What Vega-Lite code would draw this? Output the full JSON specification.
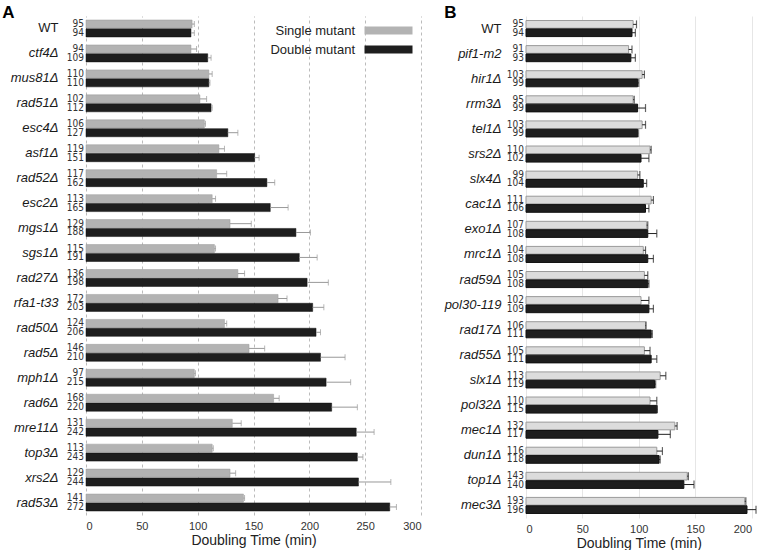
{
  "$schema": "https://vega.github.io/schema/vega-lite/v6.json",
  "background": "white",
  "padding": {"left": 2, "top": 4, "right": 5, "bottom": 2},
  "config": {"view": {"stroke": null}, "font": "Liberation Sans"},
  "bounds": "flush",
  "spacing": 105,
  "resolve": {"scale": {"color": "independent", "x": "independent", "y": "independent", "yOffset": "independent"}},
  "datasets": {
    "A": [
      {"gene": "WT", "type": "Single mutant", "value": 95, "hi": 97, "label": "95"},
      {"gene": "WT", "type": "Double mutant", "value": 94, "hi": 97, "label": "94"},
      {"gene": "ctf4Δ", "type": "Single mutant", "value": 94, "hi": 99, "label": "94"},
      {"gene": "ctf4Δ", "type": "Double mutant", "value": 109, "hi": 112, "label": "109"},
      {"gene": "mus81Δ", "type": "Single mutant", "value": 110, "hi": 113, "label": "110"},
      {"gene": "mus81Δ", "type": "Double mutant", "value": 110, "hi": 111, "label": "110"},
      {"gene": "rad51Δ", "type": "Single mutant", "value": 102, "hi": 108, "label": "102"},
      {"gene": "rad51Δ", "type": "Double mutant", "value": 112, "hi": 113, "label": "112"},
      {"gene": "esc4Δ", "type": "Single mutant", "value": 106, "hi": 107, "label": "106"},
      {"gene": "esc4Δ", "type": "Double mutant", "value": 127, "hi": 136, "label": "127"},
      {"gene": "asf1Δ", "type": "Single mutant", "value": 119, "hi": 124, "label": "119"},
      {"gene": "asf1Δ", "type": "Double mutant", "value": 151, "hi": 155, "label": "151"},
      {"gene": "rad52Δ", "type": "Single mutant", "value": 117, "hi": 126, "label": "117"},
      {"gene": "rad52Δ", "type": "Double mutant", "value": 162, "hi": 169, "label": "162"},
      {"gene": "esc2Δ", "type": "Single mutant", "value": 113, "hi": 116, "label": "113"},
      {"gene": "esc2Δ", "type": "Double mutant", "value": 165, "hi": 181, "label": "165"},
      {"gene": "mgs1Δ", "type": "Single mutant", "value": 129, "hi": 148, "label": "129"},
      {"gene": "mgs1Δ", "type": "Double mutant", "value": 188, "hi": 201, "label": "188"},
      {"gene": "sgs1Δ", "type": "Single mutant", "value": 115, "hi": 116, "label": "115"},
      {"gene": "sgs1Δ", "type": "Double mutant", "value": 191, "hi": 207, "label": "191"},
      {"gene": "rad27Δ", "type": "Single mutant", "value": 136, "hi": 142, "label": "136"},
      {"gene": "rad27Δ", "type": "Double mutant", "value": 198, "hi": 217, "label": "198"},
      {"gene": "rfa1-t33", "type": "Single mutant", "value": 172, "hi": 180, "label": "172"},
      {"gene": "rfa1-t33", "type": "Double mutant", "value": 203, "hi": 213, "label": "203"},
      {"gene": "rad50Δ", "type": "Single mutant", "value": 124, "hi": 126, "label": "124"},
      {"gene": "rad50Δ", "type": "Double mutant", "value": 206, "hi": 210, "label": "206"},
      {"gene": "rad5Δ", "type": "Single mutant", "value": 146, "hi": 160, "label": "146"},
      {"gene": "rad5Δ", "type": "Double mutant", "value": 210, "hi": 232, "label": "210"},
      {"gene": "mph1Δ", "type": "Single mutant", "value": 97, "hi": 98, "label": "97"},
      {"gene": "mph1Δ", "type": "Double mutant", "value": 215, "hi": 237, "label": "215"},
      {"gene": "rad6Δ", "type": "Single mutant", "value": 168, "hi": 173, "label": "168"},
      {"gene": "rad6Δ", "type": "Double mutant", "value": 220, "hi": 243, "label": "220"},
      {"gene": "mre11Δ", "type": "Single mutant", "value": 131, "hi": 139, "label": "131"},
      {"gene": "mre11Δ", "type": "Double mutant", "value": 242, "hi": 258, "label": "242"},
      {"gene": "top3Δ", "type": "Single mutant", "value": 113, "hi": 114, "label": "113"},
      {"gene": "top3Δ", "type": "Double mutant", "value": 243, "hi": 248, "label": "243"},
      {"gene": "xrs2Δ", "type": "Single mutant", "value": 129, "hi": 134, "label": "129"},
      {"gene": "xrs2Δ", "type": "Double mutant", "value": 244, "hi": 273, "label": "244"},
      {"gene": "rad53Δ", "type": "Single mutant", "value": 141, "hi": 142, "label": "141"},
      {"gene": "rad53Δ", "type": "Double mutant", "value": 272, "hi": 278, "label": "272"}
    ],
    "B": [
      {"gene": "WT", "type": "Single mutant", "value": 95, "hi": 98, "label": "95"},
      {"gene": "WT", "type": "Double mutant", "value": 94, "hi": 97, "label": "94"},
      {"gene": "pif1-m2", "type": "Single mutant", "value": 91, "hi": 94, "label": "91"},
      {"gene": "pif1-m2", "type": "Double mutant", "value": 93, "hi": 97, "label": "93"},
      {"gene": "hir1Δ", "type": "Single mutant", "value": 103, "hi": 105, "label": "103"},
      {"gene": "hir1Δ", "type": "Double mutant", "value": 99, "hi": 100, "label": "99"},
      {"gene": "rrm3Δ", "type": "Single mutant", "value": 95, "hi": 96, "label": "95"},
      {"gene": "rrm3Δ", "type": "Double mutant", "value": 99, "hi": 106, "label": "99"},
      {"gene": "tel1Δ", "type": "Single mutant", "value": 103, "hi": 106, "label": "103"},
      {"gene": "tel1Δ", "type": "Double mutant", "value": 99, "hi": 99.5, "label": "99"},
      {"gene": "srs2Δ", "type": "Single mutant", "value": 110, "hi": 111, "label": "110"},
      {"gene": "srs2Δ", "type": "Double mutant", "value": 102, "hi": 109, "label": "102"},
      {"gene": "slx4Δ", "type": "Single mutant", "value": 99, "hi": 101, "label": "99"},
      {"gene": "slx4Δ", "type": "Double mutant", "value": 104, "hi": 107, "label": "104"},
      {"gene": "cac1Δ", "type": "Single mutant", "value": 111, "hi": 113, "label": "111"},
      {"gene": "cac1Δ", "type": "Double mutant", "value": 106, "hi": 109, "label": "106"},
      {"gene": "exo1Δ", "type": "Single mutant", "value": 107, "hi": 108, "label": "107"},
      {"gene": "exo1Δ", "type": "Double mutant", "value": 108, "hi": 116, "label": "108"},
      {"gene": "mrc1Δ", "type": "Single mutant", "value": 104, "hi": 106, "label": "104"},
      {"gene": "mrc1Δ", "type": "Double mutant", "value": 108, "hi": 113, "label": "108"},
      {"gene": "rad59Δ", "type": "Single mutant", "value": 105, "hi": 108, "label": "105"},
      {"gene": "rad59Δ", "type": "Double mutant", "value": 108, "hi": 109, "label": "108"},
      {"gene": "pol30-119", "type": "Single mutant", "value": 102, "hi": 109, "label": "102"},
      {"gene": "pol30-119", "type": "Double mutant", "value": 109, "hi": 113, "label": "109"},
      {"gene": "rad17Δ", "type": "Single mutant", "value": 106, "hi": 106.5, "label": "106"},
      {"gene": "rad17Δ", "type": "Double mutant", "value": 111, "hi": 112, "label": "111"},
      {"gene": "rad55Δ", "type": "Single mutant", "value": 105, "hi": 110, "label": "105"},
      {"gene": "rad55Δ", "type": "Double mutant", "value": 111, "hi": 116, "label": "111"},
      {"gene": "slx1Δ", "type": "Single mutant", "value": 119, "hi": 124, "label": "113"},
      {"gene": "slx1Δ", "type": "Double mutant", "value": 114, "hi": 115, "label": "119"},
      {"gene": "pol32Δ", "type": "Single mutant", "value": 110, "hi": 116, "label": "110"},
      {"gene": "pol32Δ", "type": "Double mutant", "value": 116, "hi": 116.5, "label": "115"},
      {"gene": "mec1Δ", "type": "Single mutant", "value": 132, "hi": 134, "label": "132"},
      {"gene": "mec1Δ", "type": "Double mutant", "value": 117, "hi": 128, "label": "117"},
      {"gene": "dun1Δ", "type": "Single mutant", "value": 116, "hi": 121, "label": "116"},
      {"gene": "dun1Δ", "type": "Double mutant", "value": 118, "hi": 119, "label": "118"},
      {"gene": "top1Δ", "type": "Single mutant", "value": 143, "hi": 144, "label": "143"},
      {"gene": "top1Δ", "type": "Double mutant", "value": 140, "hi": 149, "label": "140"},
      {"gene": "mec3Δ", "type": "Single mutant", "value": 194, "hi": 195, "label": "193"},
      {"gene": "mec3Δ", "type": "Double mutant", "value": 196, "hi": 204, "label": "196"}
    ]
  },
  "hconcat": [
    {
      "width": 335,
      "height": 499,
      "data": {"name": "A"},
      "title": {"text": "A", "anchor": "start", "frame": "bounds", "fontSize": 17, "fontWeight": "bold", "color": "#000", "dx": -8, "offset": -19, "baseline": "alphabetic"},
      "encoding": {
        "y": {
          "field": "gene", "type": "nominal", "sort": null,
          "scale": {"paddingInner": 0.32, "paddingOuter": 0.16},
          "axis": {"title": null, "ticks": false, "domain": false, "grid": false, "labelFontSize": 13, "labelColor": "#1a1a1a", "labelPadding": 28,
            "labelFontStyle": {"condition": {"test": "datum.value === 'WT'", "value": "normal"}, "value": "italic"}}
        },
        "yOffset": {"field": "type", "type": "nominal", "sort": ["Single mutant", "Double mutant"], "scale": {"paddingInner": 0.08}}
      },
      "layer": [
        {
          "mark": {"type": "bar", "strokeWidth": 0.5},
          "encoding": {
            "x": {"field": "value", "type": "quantitative", "scale": {"domain": [0, 300], "nice": false},
              "axis": {"title": "Doubling Time (min)", "titleFontSize": 14, "titleFontWeight": "normal", "titleColor": "#222", "titlePadding": 2,
                "labelFontSize": 11, "labelColor": "#333", "labelPadding": 5, "ticks": false, "domain": false,
                "values": [0, 50, 100, 150, 200, 250, 300], "grid": true, "gridDash": [3, 3], "gridColor": "#aaaaaa", "gridWidth": 0.8}},
            "color": {"field": "type", "type": "nominal",
              "scale": {"domain": ["Single mutant", "Double mutant"], "range": ["#b3b3b3", "#1e1e1e"]},
              "legend": {"title": null, "orient": "top-right", "offset": 8, "labelFontSize": 13, "labelColor": "#222",
                "symbolType": "M-6,-1H6V1H-6Z", "symbolSize": 64, "symbolStrokeWidth": 0, "symbolOpacity": 1,
                "labelAlign": "right", "labelOffset": -40, "rowPadding": 5}},
            "stroke": {"field": "type", "type": "nominal", "scale": {"domain": ["Single mutant", "Double mutant"], "range": ["#9a9a9a", "#111111"]}, "legend": null}
          }
        },
        {
          "mark": {"type": "rule", "color": "#999999", "strokeWidth": 1},
          "encoding": {"x": {"field": "value", "type": "quantitative"}, "x2": {"field": "hi"}}
        },
        {
          "mark": {"type": "tick", "color": "#999999", "size": 6, "thickness": 1},
          "encoding": {"x": {"field": "hi", "type": "quantitative"}}
        },
        {
          "mark": {"type": "text", "align": "right", "baseline": "middle", "dx": -2, "fontSize": 10, "font": "Liberation Sans Narrow, DejaVu Sans Condensed, sans-serif", "color": "#333"},
          "encoding": {"x": {"datum": 0, "type": "quantitative"}, "text": {"field": "label"}}
        }
      ]
    },
    {
      "width": 225.5,
      "height": 502,
      "data": {"name": "B"},
      "title": {"text": "B", "anchor": "start", "frame": "bounds", "fontSize": 17, "fontWeight": "bold", "color": "#000", "dx": 0, "offset": -19, "baseline": "alphabetic"},
      "encoding": {
        "y": {
          "field": "gene", "type": "nominal", "sort": null,
          "scale": {"paddingInner": 0.36, "paddingOuter": 0.18},
          "axis": {"title": null, "ticks": false, "domain": false, "grid": false, "labelFontSize": 13, "labelColor": "#1a1a1a", "labelPadding": 25,
            "labelFontStyle": {"condition": {"test": "datum.value === 'WT'", "value": "normal"}, "value": "italic"}}
        },
        "yOffset": {"field": "type", "type": "nominal", "sort": ["Single mutant", "Double mutant"], "scale": {"paddingInner": 0.08}}
      },
      "layer": [
        {
          "mark": {"type": "bar", "strokeWidth": 1},
          "encoding": {
            "x": {"field": "value", "type": "quantitative", "scale": {"domain": [0, 200], "nice": false},
              "axis": {"title": "Doubling Time (min)", "titleFontSize": 14, "titleFontWeight": "normal", "titleColor": "#222", "titlePadding": 2,
                "labelFontSize": 11, "labelColor": "#333", "labelPadding": 5, "ticks": false, "domain": false,
                "values": [0, 50, 100, 150, 200], "grid": true, "gridColor": "#e6e6e6", "gridWidth": 1}},
            "color": {"field": "type", "type": "nominal",
              "scale": {"domain": ["Single mutant", "Double mutant"], "range": ["#dcdcdc", "#1e1e1e"]}, "legend": null},
            "stroke": {"field": "type", "type": "nominal", "scale": {"domain": ["Single mutant", "Double mutant"], "range": ["#9a9a9a", "#111111"]}, "legend": null}
          }
        },
        {
          "mark": {"type": "rule", "color": "#222222", "strokeWidth": 1},
          "encoding": {"x": {"field": "value", "type": "quantitative"}, "x2": {"field": "hi"}}
        },
        {
          "mark": {"type": "tick", "color": "#222222", "size": 8, "thickness": 1.2},
          "encoding": {"x": {"field": "hi", "type": "quantitative"}}
        },
        {
          "mark": {"type": "text", "align": "right", "baseline": "middle", "dx": -2, "fontSize": 10, "font": "Liberation Sans Narrow, DejaVu Sans Condensed, sans-serif", "color": "#333"},
          "encoding": {"x": {"datum": 0, "type": "quantitative"}, "text": {"field": "label"}}
        }
      ]
    }
  ]
}
